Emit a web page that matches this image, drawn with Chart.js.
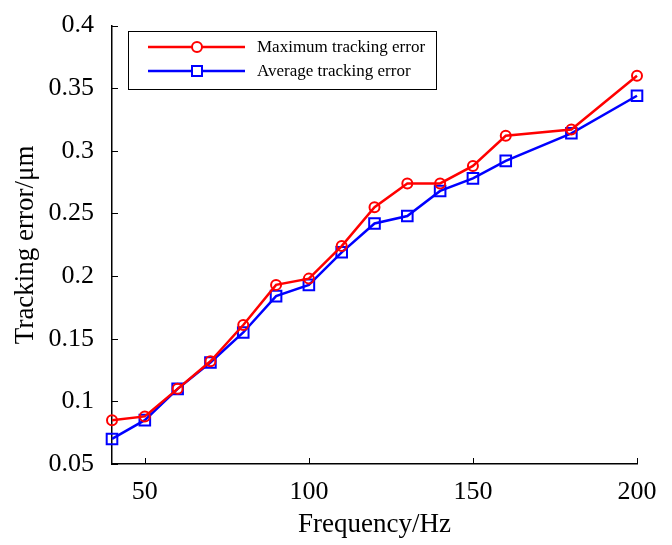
<!DOCTYPE html>
<html>
<head>
<meta charset="utf-8">
<script src="https://cdn.jsdelivr.net/npm/chart.js@4"></script>
<style>
  html, body { margin: 0; padding: 0; background: #fff; }
  #wrap { width: 672px; height: 545px; }
</style>
</head>
<body>
<div id="wrap"><canvas id="grafica" width="672" height="545"></canvas></div>
<script>
// datos
const frecuencias = [40, 50, 60, 70, 80, 90, 100, 110, 120, 130, 140, 150, 160, 180, 200];
const errorMaximo = [0.085, 0.088, 0.110, 0.132, 0.161, 0.193, 0.198, 0.224, 0.255, 0.274, 0.274, 0.288, 0.312, 0.317, 0.360];
const errorPromedio = [0.070, 0.085, 0.110, 0.131, 0.155, 0.184, 0.193, 0.219, 0.242, 0.248, 0.268, 0.278, 0.292, 0.314, 0.344];
const ticksX = [50, 100, 150, 200];
const ticksY = [0.05, 0.1, 0.15, 0.2, 0.25, 0.3, 0.35, 0.4];
const etiquetasY = ["0.05", "0.1", "0.15", "0.2", "0.25", "0.3", "0.35", "0.4"];
const nombres = ["Maximum tracking error", "Average tracking error"];

const fuente = "'Liberation Serif', 'Times New Roman', serif";
const rojo = "#ff0000";
const azul = "#0000ff";

// marcas hacia adentro y leyenda dentro del area, estilo matlab
const estiloMatlab = {
    id: "estiloMatlab",
    afterDraw(chart) {
        const ctx = chart.ctx;
        const x = chart.scales.x, y = chart.scales.y;
        const area = chart.chartArea;
        ctx.save();
        ctx.strokeStyle = "#000";
        ctx.lineWidth = 1;
        ctx.beginPath();
        ticksX.forEach(v => {
            const px = Math.round(x.getPixelForValue(v)) + 0.5;
            ctx.moveTo(px, area.bottom);
            ctx.lineTo(px, area.bottom - 6);
        });
        ticksY.forEach(v => {
            const py = Math.round(y.getPixelForValue(v)) + 0.5;
            ctx.moveTo(area.left, py);
            ctx.lineTo(area.left + 6, py);
        });
        ctx.stroke();

        // leyenda
        const caja = { x: 128, y: 31, w: 308, h: 58 };
        ctx.fillStyle = "#fff";
        ctx.fillRect(caja.x, caja.y, caja.w, caja.h);
        ctx.strokeRect(caja.x + 0.5, caja.y + 0.5, caja.w, caja.h);
        const filas = [47, 71];
        chart.data.datasets.forEach((ds, i) => {
            const cy = filas[i];
            ctx.strokeStyle = ds.borderColor;
            ctx.lineWidth = ds.borderWidth;
            ctx.beginPath();
            ctx.moveTo(148, cy);
            ctx.lineTo(245, cy);
            ctx.stroke();
            ctx.lineWidth = ds.pointBorderWidth;
            ctx.fillStyle = "#fff";
            ctx.beginPath();
            if (ds.pointStyle === "circle") {
                ctx.arc(197, cy, 5, 0, Math.PI * 2);
            } else {
                ctx.rect(192, cy - 5, 10, 10);
            }
            ctx.fill();
            ctx.stroke();
            ctx.fillStyle = "#000";
            ctx.font = "17px " + fuente;
            ctx.textBaseline = "middle";
            ctx.textAlign = "left";
            ctx.fillText(ds.label, 257, cy + 1);
        });
        ctx.restore();
    }
};

const ctx = document.getElementById("grafica").getContext("2d");
const grafica = new Chart(ctx, {
    type: "line",
    data: {
        datasets: [{
            label: nombres[0],
            data: frecuencias.map((f, i) => ({ x: f, y: errorMaximo[i] })),
            borderColor: rojo,
            backgroundColor: "rgba(255,255,255,0)",
            borderWidth: 2.5,
            pointStyle: "circle",
            pointRadius: 5,
            pointBorderWidth: 2,
            pointBorderColor: rojo,
            pointBackgroundColor: "rgba(255,255,255,0)",
            clip: false
        }, {
            label: nombres[1],
            data: frecuencias.map((f, i) => ({ x: f, y: errorPromedio[i] })),
            borderColor: azul,
            backgroundColor: "rgba(255,255,255,0)",
            borderWidth: 2.5,
            pointStyle: "rect",
            pointRadius: 7.5,
            pointBorderWidth: 2,
            pointBorderColor: azul,
            pointBackgroundColor: "rgba(255,255,255,0)",
            clip: false
        }]
    },
    options: {
        responsive: false,
        animation: false,
        devicePixelRatio: 1,
        layout: { padding: { top: 15, right: 35, left: 0, bottom: 0 } },
        plugins: {
            legend: { display: false },
            tooltip: { enabled: false }
        },
        scales: {
            x: {
                type: "linear",
                min: 40,
                max: 200,
                afterBuildTicks: s => { s.ticks = ticksX.map(v => ({ value: v })); },
                afterFit: s => { s.height = 81; },
                grid: { display: false },
                border: { display: true, color: "#000", width: 1.5 },
                ticks: {
                    color: "#000",
                    font: { family: fuente, size: 26 },
                    padding: 5,
                    maxRotation: 0
                },
                title: {
                    display: true,
                    text: "Frequency/Hz",
                    color: "#000",
                    font: { family: fuente, size: 27 },
                    padding: { top: 0, bottom: 4 }
                }
            },
            y: {
                type: "linear",
                min: 0.05,
                max: 0.4,
                afterBuildTicks: s => { s.ticks = ticksY.map(v => ({ value: v })); },
                afterFit: s => { s.width = 112; },
                grid: { display: false },
                border: { display: true, color: "#000", width: 1.5 },
                ticks: {
                    color: "#000",
                    font: { family: fuente, size: 26 },
                    padding: 10,
                    callback: (v, i) => etiquetasY[i]
                },
                title: {
                    display: true,
                    text: "Tracking error/μm",
                    color: "#000",
                    font: { family: fuente, size: 27 },
                    padding: { top: 10, bottom: 0 }
                }
            }
        }
    },
    plugins: [estiloMatlab]
});
</script>
</body>
</html>
